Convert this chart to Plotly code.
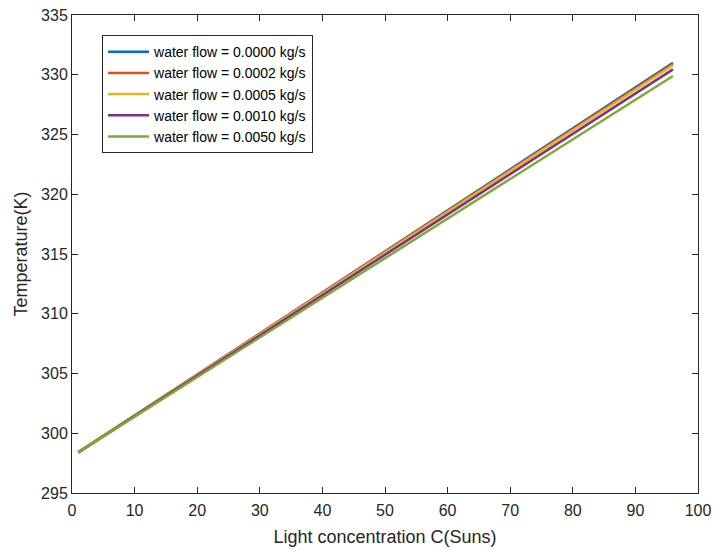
import plotly.graph_objects as go

C = [1, 10, 20, 30, 40, 50, 60, 70, 80, 90, 96]
T_0000 = [298.40, 301.49, 304.92, 308.35, 311.78, 315.22, 318.65, 322.08, 325.51, 328.94, 331.00]
T_0002 = [298.40, 301.48, 304.90, 308.32, 311.74, 315.16, 318.58, 322.00, 325.43, 328.85, 330.90]
T_0005 = [298.40, 301.47, 304.88, 308.29, 311.70, 315.11, 318.52, 321.93, 325.34, 328.75, 330.80]
T_0010 = [298.40, 301.44, 304.81, 308.18, 311.56, 314.93, 318.31, 321.68, 325.05, 328.43, 330.45]
T_0050 = [298.40, 301.38, 304.70, 308.02, 311.33, 314.65, 317.96, 321.28, 324.59, 327.91, 329.90]

names = ["water flow = 0.0000 kg/s", "water flow = 0.0002 kg/s", "water flow = 0.0005 kg/s",
         "water flow = 0.0010 kg/s", "water flow = 0.0050 kg/s"]
series = [T_0000, T_0002, T_0005, T_0010, T_0050]
colors = ["#0072BD", "#D95319", "#EDB120", "#7E2F8E", "#77AC30"]

x_ticks = [0, 10, 20, 30, 40, 50, 60, 70, 80, 90, 100]
y_ticks = [295, 300, 305, 310, 315, 320, 325, 330, 335]

fig = go.Figure()
for n, s, c in zip(names, series, colors):
    fig.add_trace(go.Scatter(x=C, y=s, mode="lines", name=n,
                             line=dict(color=c, width=2.5)))

axis_common = dict(showgrid=False, zeroline=False, showline=True, linecolor="#262626",
                   linewidth=1, mirror="ticks", ticks="inside", ticklen=6,
                   tickcolor="#262626", automargin=False,
                   tickfont=dict(size=16, color="#262626"))

fig.update_layout(
    width=713, height=549,
    margin=dict(l=72, r=15, t=15, b=56),
    paper_bgcolor="white", plot_bgcolor="white",
    font=dict(family="Liberation Sans, Arial, sans-serif", color="#262626"),
    xaxis=dict(range=[0, 100], tickvals=x_ticks, ticklabelstandoff=3,
               title=dict(text="Light concentration C(Suns)", font=dict(size=18), standoff=12),
               **axis_common),
    yaxis=dict(range=[295, 335], tickvals=y_ticks,
               title=dict(text="Temperature(K)", font=dict(size=18), standoff=8),
               **axis_common),
    legend=dict(x=0.048, y=0.958, xanchor="left", yanchor="top",
                bgcolor="white", bordercolor="#262626", borderwidth=1,
                itemwidth=41,
                font=dict(size=14, color="#000000"), tracegroupgap=0),
    showlegend=True,
)

fig.write_html("out.html")
